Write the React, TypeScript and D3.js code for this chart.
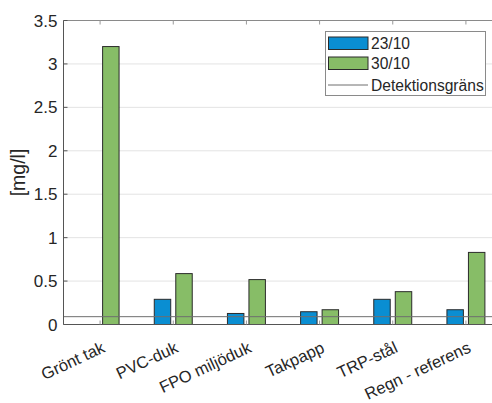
import React from "react";
import * as d3 from "d3";

const categories = ["Grönt tak", "PVC-duk", "FPO miljöduk", "Takpapp", "TRP-stål", "Regn - referens"];
const series1Name = "23/10";
const series2Name = "30/10";
const series1 = [0, 0.29, 0.127, 0.147, 0.29, 0.17];
const series2 = [3.2, 0.586, 0.517, 0.17, 0.378, 0.83];
const detectionLimit = 0.09;
const detectionName = "Detektionsgräns";
const yTicks = [0, 0.5, 1, 1.5, 2, 2.5, 3, 3.5];
const yLabel = "[mg/l]";

const W = 492;
const H = 403;
const left = 63.5;
const right = 502.5;
const top = 20.5;
const bottom = 324.5;
const font = "'Liberation Sans', Arial, sans-serif";
const blue = "#0a8ed2";
const green = "#87bd67";
const edge = "#2b2b2b";

export default function App() {
  const x = d3.scaleLinear().domain([0.5, categories.length + 0.5]).range([left, right]);
  const y = d3.scaleLinear().domain([0, 3.5]).range([bottom, top]);
  const unit = x(2) - x(1);
  const offset = 0.147 * unit;
  const bw = 0.225 * unit;

  return (
    <svg width={W} height={H} style={{ position: "absolute", left: 0, top: 0, background: "#fff" }} fontFamily={font}>
      <rect x={0} y={0} width={W} height={H} fill="#fff" />
      {/* grid */}
      {yTicks.map((t) => (
        <line key={"g" + t} x1={left} x2={right} y1={y(t)} y2={y(t)} stroke="#e3e3e3" strokeWidth={1} />
      ))}
      {/* bars */}
      {categories.map((c, i) => {
        const cx = x(i + 1);
        const h1 = bottom - y(series1[i]);
        const h2 = bottom - y(series2[i]);
        return (
          <g key={c}>
            {series1[i] > 0 && (
              <rect x={cx - offset - bw / 2} y={y(series1[i])} width={bw} height={h1} fill={blue} stroke={edge} strokeWidth={1} />
            )}
            <rect x={cx + offset - bw / 2} y={y(series2[i])} width={bw} height={h2} fill={green} stroke={edge} strokeWidth={1} />
          </g>
        );
      })}
      {/* detection line */}
      <line x1={left} x2={right} y1={y(detectionLimit)} y2={y(detectionLimit)} stroke="#6e6e6e" strokeWidth={1} />
      {/* axes box */}
      <line x1={left} x2={right} y1={top} y2={top} stroke="#8a8a8a" strokeWidth={1} />
      <line x1={left} x2={right} y1={bottom} y2={bottom} stroke="#555" strokeWidth={1} />
      <line x1={left} x2={left} y1={top} y2={bottom} stroke="#555" strokeWidth={1} />
      {/* y ticks */}
      {yTicks.map((t) => (
        <g key={"t" + t}>
          <line x1={left} x2={left + 4} y1={y(t)} y2={y(t)} stroke="#555" />
          <text x={left - 6} y={y(t)} dy="0.36em" textAnchor="end" fontSize={17} fill="#262626">
            {t}
          </text>
        </g>
      ))}
      {/* x ticks */}
      {categories.map((c, i) => (
        <g key={"x" + c}>
          <line x1={x(i + 1)} x2={x(i + 1)} y1={bottom} y2={bottom - 4} stroke="#999" />
          <line x1={x(i + 1)} x2={x(i + 1)} y1={top} y2={top + 4} stroke="#999" />
          <text
            transform={`translate(${x(i + 1) + 6},${bottom + 27}) rotate(-25)`}
            textAnchor="end"
            fontSize={16.5}
            fill="#262626"
          >
            {c}
          </text>
        </g>
      ))}
      {/* y label */}
      <text transform={`translate(25,${(top + bottom) / 2}) rotate(-90)`} textAnchor="middle" fontSize={19.5} fill="#262626">
        {yLabel}
      </text>
      {/* legend */}
      <g>
        <rect x={325.5} y={31.5} width={160} height={64} fill="#fff" stroke="#8a8a8a" strokeWidth={1} />
        <rect x={328.5} y={37} width={39.5} height={12.5} fill={blue} stroke={edge} />
        <text x={371} y={43.5} dy="0.36em" fontSize={15.6} fill="#262626">{series1Name}</text>
        <rect x={328.5} y={57} width={39.5} height={12.5} fill={green} stroke={edge} />
        <text x={371} y={63.5} dy="0.36em" fontSize={15.6} fill="#262626">{series2Name}</text>
        <line x1={328} x2={368} y1={85} y2={85} stroke="#6e6e6e" />
        <text x={371} y={85} dy="0.36em" fontSize={15.6} fill="#262626">{detectionName}</text>
      </g>
    </svg>
  );
}
